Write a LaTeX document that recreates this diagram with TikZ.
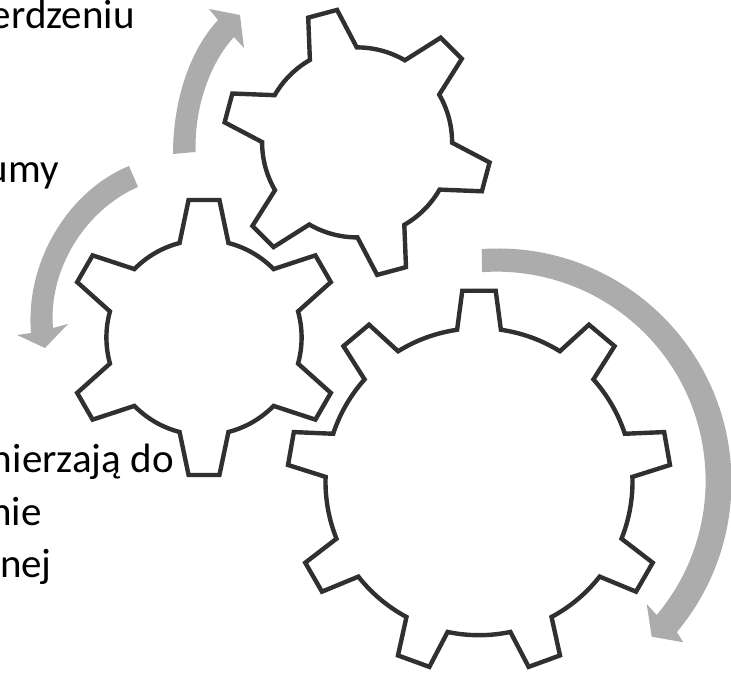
\documentclass[tikz,border=0pt]{standalone}
\usepackage{fontspec}
\setmainfont{Carlito}
\definecolor{gearcol}{HTML}{303030}
\definecolor{arrowcol}{HTML}{ACACAC}
\tikzset{
  gearline/.style={draw=gearcol, line width=4.4pt, line join=miter},
  turnarrow/.style={fill=arrowcol, draw=none},
  lbl/.style={anchor=base east, inner sep=0pt, text=black, font=\fontsize{41}{49}\selectfont}
}
\begin{document}
\begin{tikzpicture}[x=1pt,y=1pt]
\useasboundingbox (0,0) rectangle (731,673);
\clip (0,0) rectangle (731,673);
% gears: x/y/first tooth/teeth/root radius/tip radius/root half angle/tip half angle
\foreach \cx/\cy/\first/\teeth/\rroot/\rtip/\aroot/\atip in {
  479/191.3/90/9/153.5/191.7/8.2/5,
  204/335.5/90/6/97.6/138.4/14.5/6.4,
  357.1/530.6/105/6/95/134/14.8/6.4}
{
\begin{scope}[shift={(\cx,\cy)}]
\pgfmathsetmacro{\gap}{360/\teeth}
\draw[gearline] (\first+\aroot:\rroot)
  \foreach \i [evaluate=\i as \a using \first-\i*\gap] in {0,...,\numexpr\teeth-1\relax} {
    -- (\a+\aroot:\rroot) -- (\a+\atip:\rtip) -- (\a-\atip:\rtip) -- (\a-\aroot:\rroot)
    arc[start angle=\a-\aroot, end angle=\a-\gap+\aroot, radius=\rroot]
  } -- cycle;
\end{scope}
}
% arrows
\path[turnarrow] (173,519) .. controls (173,573) and (190,623) .. (218,653)
  -- (209,664) -- (240,658) -- (244,625) -- (234,636)
  .. controls (210,610) and (194,565) .. (195.7,521) -- cycle;
\path[turnarrow] (129,507) .. controls (70,483) and (25,413) .. (31,340)
  -- (17,338) -- (45,325) -- (68,349) -- (53,345)
  .. controls (48,403) and (85,463) .. (138,486) -- cycle;
\coordinate (bigmid) at (498,191);
\path[turnarrow] ([shift={(94:233.5)}]bigmid) arc[start angle=94, end angle=-40, radius=233.5]
  -- (683.3,30.7) -- (651.7,36.3) -- (646.7,69) -- (656.7,58)
  arc[start angle=-40, end angle=94, radius=209] -- cycle;
% labels
\node[lbl] (core) at (135,644) {erdzeniu};
\node[lbl] (sum) at (59,490.5) {umy};
\node[lbl] (aim) at (174,200.5) {mierzają do};
\node[lbl] (nie) at (42,148) {nie};
\node[lbl] (nej) at (52,96) {nej};
\end{tikzpicture}
\end{document}
